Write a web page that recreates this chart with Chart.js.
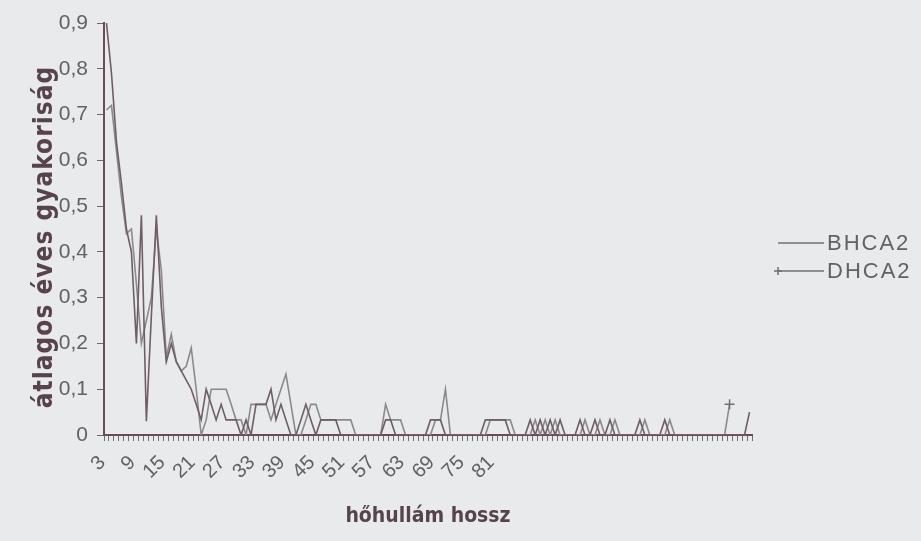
<!DOCTYPE html>
<html><head><meta charset="utf-8">
<script src="https://cdn.jsdelivr.net/npm/chart.js@4/dist/chart.umd.min.js"></script>
<style>
html,body{margin:0;padding:0;background:#e9eaec;}
#wrap{width:921px;height:541px;position:relative;}
</style></head><body>
<div id="wrap"><canvas id="c" width="921" height="541"></canvas></div>
<script>
const categories = [3,4,5,6,7,8,9,10,11,12,13,14,15,16,17,18,19,20,21,22,23,24,25,26,27,28,29,30,31,32,33,34,35,36,37,38,39,40,41,42,43,44,45,46,47,48,49,50,51,52,53,54,55,56,57,58,59,60,61,62,63,64,65,66,67,68,69,70,71,72,73,74,75,76,77,78,79,80,81,82,83,84,85,86,87,88,89,90,91,92,93,94,95,96,97,98,99,100,101,102,103,104,105,106,107,108,109,110,111,112,113,114,115,116,117,118,119,120,121,122,123,124,125,126,127,128,129,130,131,132];

const bhca2 = [0.90,0.79,0.64,0.55,0.45,0.40,0.20,0.48,0.03,0.26,
  0.48,0.28,0.16,0.20,0.16,0.14,0.12,0.10,0.067,0.033,
  0.10,0.067,0.033,0.067,0.033,0.033,0.033,0,0.033,0,
  0.067,0.067,0.067,0.10,0.033,0.067,0.033,0,0,0.033,
  0.067,0.033,0,0.033,0.033,0.033,0.033,0,0,0,
  0,0,0,0,0,0,0.033,0.033,0,0,
  0,0,0,0,0,0.033,0.033,0.033,0,0,
  0,0,0,0,0,0,0.033,0.033,0.033,0.033,
  0.033,0,0,0,0,0.033,0,0.033,0,0.033,
  0,0.033,0,0,0,0.033,0,0,0.033,0,
  0,0.033,0,0,0,0,0,0.033,0,0,
  0,0,0.033,0,0,0,0,0,0,0,
  0,0,0,0,0,0,0,0,0,0.05];

const dhca2 = [0.71,0.72,0.62,0.52,0.44,0.45,0.33,0.20,0.25,0.30,
  0.45,0.36,0.17,0.22,0.16,0.14,0.15,0.19,0.10,0,
  0.033,0.10,0.10,0.10,0.10,0.067,0.033,0.033,0,0.067,
  0.067,0.067,0.067,0.033,0.067,0.10,0.133,0.067,0,0,
  0.033,0.067,0.067,0.033,0.033,0.033,0.033,0.033,0.033,0.033,
  0,0,0,0,0,0,0.067,0.033,0.033,0.033,
  0,0,0,0,0,0,0.033,0.033,0.10,0,
  0,0,0,0,0,0,0,0.033,0.033,0.033,
  0.033,0.033,0,0,0,0,0.033,0,0.033,0,
  0.033,0,0,0,0,0,0.033,0,0,0.033,
  0,0,0.033,0,0,0,0,0,0.033,0,
  0,0,0,0.033,0,0,0,0,0,0,
  0,0,0,0,0,0.067,null,null,null,null];

const xTickLabels = ['3','9','15','21','27','33','39','45','51','57','63','69','75','81'];
const seriesNames = ['BHCA2','DHCA2'];
const seriesColors = ['#6f5d68','#8a8a8c'];
const yTitle = 'átlagos éves gyakoriság';
const xTitle = 'hőhullám hossz';

const TICK_FONT = "'Liberation Sans',Arial,sans-serif";
const TITLE_FONT = "'DejaVu Sans Condensed','DejaVu Sans',sans-serif";
const AXIS_COLOR = '#6b4a5a';
const TEXT_COLOR = '#626262';
const TITLE_COLOR = '#57434d';

const bgPlugin = {
  id: 'bg',
  beforeDraw(chart) {
    const ctx = chart.ctx;
    ctx.save();
    ctx.fillStyle = '#e9eaec';
    ctx.fillRect(0, 0, chart.width, chart.height);
    ctx.restore();
  }
};

// vertical axis title, drawn with a little letter spacing like the scanned original
const yTitlePlugin = {
  id: 'yTitle',
  afterDraw(chart) {
    const ctx = chart.ctx;
    const ca = chart.chartArea;
    ctx.save();
    ctx.translate(45, (ca.top + ca.bottom) / 2 + 8);
    ctx.rotate(-Math.PI / 2);
    ctx.font = "bold 26px " + TITLE_FONT;
    ctx.letterSpacing = '1px';
    ctx.fillStyle = TITLE_COLOR;
    ctx.textAlign = 'center';
    ctx.textBaseline = 'middle';
    ctx.fillText(yTitle, 0, 0);
    ctx.restore();
  }
};

const sideLegend = {
  id: 'sideLegend',
  afterDraw(chart) {
    const ctx = chart.ctx;
    const ca = chart.chartArea;
    const x0 = ca.right + 26;
    const lineLen = 46;
    const rowH = 28;
    const yStart = 243;
    ctx.save();
    chart.data.datasets.forEach((ds, i) => {
      const y = yStart + i * rowH;
      ctx.strokeStyle = '#707070';
      ctx.lineWidth = 1.5;
      ctx.beginPath();
      ctx.moveTo(x0, y);
      ctx.lineTo(x0 + lineLen, y);
      ctx.stroke();
      if (ds.pointStyle === 'cross') {
        ctx.beginPath();
        ctx.moveTo(x0 - 4, y); ctx.lineTo(x0 + 4, y);
        ctx.moveTo(x0, y - 4); ctx.lineTo(x0, y + 4);
        ctx.stroke();
      }
      ctx.fillStyle = TEXT_COLOR;
      ctx.font = "22px " + TICK_FONT;
      ctx.textBaseline = 'middle';
      ctx.textAlign = 'left';
      ctx.letterSpacing = '2px';
      ctx.fillText(ds.label, x0 + lineLen + 3, y + 1);
    });
    ctx.restore();
  }
};

const lastD = dhca2.reduce((acc, v, i) => (v !== null ? i : acc), 0);

new Chart(document.getElementById('c'), {
  type: 'line',
  data: {
    labels: categories,
    datasets: [
      { label: seriesNames[0], data: bhca2, borderColor: seriesColors[0], borderWidth: 1.6,
        pointRadius: 0, tension: 0, fill: false },
      { label: seriesNames[1], data: dhca2, borderColor: seriesColors[1], borderWidth: 1.6,
        pointStyle: 'cross', pointBorderColor: '#707070', pointBorderWidth: 1.5,
        pointRadius: ctx => ctx.dataIndex === lastD ? 5 : 0, tension: 0, fill: false }
    ]
  },
  options: {
    responsive: false,
    animation: false,
    devicePixelRatio: 1,
    layout: { padding: { top: 23, right: 169, bottom: 0, left: 0 } },
    plugins: { legend: { display: false }, tooltip: { enabled: false } },
    scales: {
      x: {
        type: 'category',
        offset: true,
        ticks: {
          autoSkip: false, minRotation: 45, maxRotation: 45, padding: 10, labelOffset: -4,
          color: TEXT_COLOR, font: { family: TICK_FONT, size: 20 },
          callback: function(v) { const l = String(this.getLabelForValue(v)); return xTickLabels.includes(l) ? l : ''; }
        },
        grid: { display: true, offset: true, drawOnChartArea: false, drawTicks: true, tickLength: 6, color: '#6e6e6e', lineWidth: 1 },
        border: { display: true, color: AXIS_COLOR, width: 2 },
        title: { display: true, text: xTitle, color: TITLE_COLOR,
          font: { family: TITLE_FONT, weight: 'bold', size: 21 }, padding: { top: 0, bottom: 12 } },
        afterFit(s) { s.height = 106; }
      },
      y: {
        min: 0, max: 0.9,
        ticks: { stepSize: 0.1, padding: 9, color: TEXT_COLOR, font: { family: TICK_FONT, size: 21 },
          callback: v => (Math.abs(v) < 1e-9 ? '0' : v.toFixed(1).replace('.', ',')) },
        grid: { display: true, drawOnChartArea: false, drawTicks: true, tickLength: 7, color: '#6a6a6a', lineWidth: 1 },
        border: { display: true, color: AXIS_COLOR, width: 2 },
        title: { display: false, text: yTitle },
        afterFit(s) { s.width = 104; }
      }
    }
  },
  plugins: [bgPlugin, yTitlePlugin, sideLegend]
});
</script>
</body></html>
